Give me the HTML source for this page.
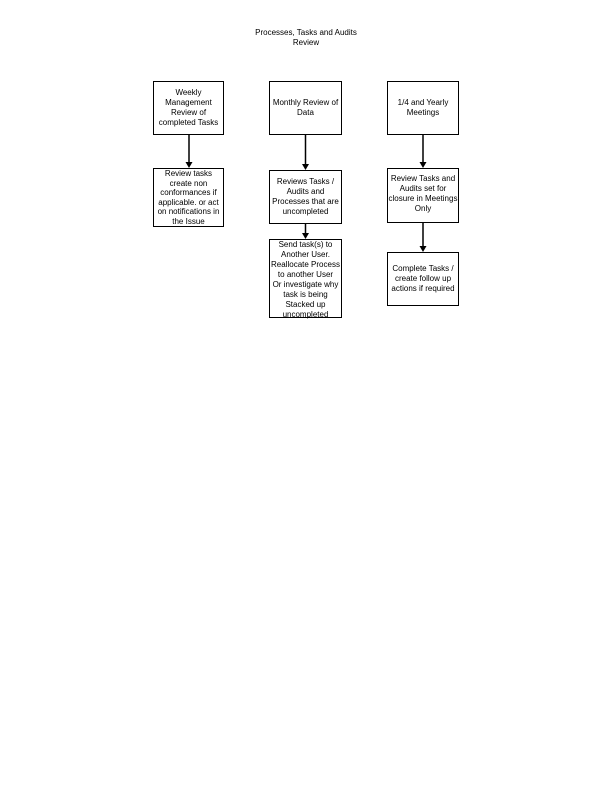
<!DOCTYPE html>
<html><head><meta charset="utf-8"><style>
html,body{margin:0;padding:0;background:#fff;}
body{width:612px;height:792px;position:relative;overflow:hidden;font-family:"Liberation Sans",Arial,sans-serif;font-size:8px;color:#000;}
.b{position:absolute;border:1.6px solid #000;box-sizing:border-box;display:flex;align-items:center;justify-content:center;text-align:center;line-height:10px;}
.t{position:absolute;left:206px;width:200px;text-align:center;line-height:10px;top:28px;}
</style></head><body>
<div class="t">Processes, Tasks and Audits<br>Review</div>
<div class="b" style="left:153px;top:81px;width:71px;height:54px;">Weekly<br>Management<br>Review of<br>completed Tasks</div>
<div class="b" style="left:269px;top:81px;width:73px;height:54px;align-items:flex-start;padding-top:16px;">Monthly Review of<br>Data</div>
<div class="b" style="left:387px;top:81px;width:72px;height:54px;align-items:flex-start;padding-top:16px;">1/4 and Yearly<br>Meetings</div>
<div class="b" style="left:153px;top:168px;width:71px;height:59px;align-items:flex-start;padding-top:0px;line-height:9.6px;">Review tasks<br>create non<br>conformances if<br>applicable. or act<br>on notifications in<br>the Issue</div>
<div class="b" style="left:269px;top:170px;width:73px;height:54px;">Reviews Tasks /<br>Audits and<br>Processes that are<br>uncompleted</div>
<div class="b" style="left:387px;top:168px;width:72px;height:55px;align-items:flex-start;padding-top:5px;">Review Tasks and<br>Audits set for<br>closure in Meetings<br>Only</div>
<div class="b" style="left:269px;top:239px;width:73px;height:79px;align-items:flex-start;padding-top:0px;">Send task(s) to<br>Another User.<br>Reallocate Process<br>to another User<br>Or investigate why<br>task is being<br>Stacked up<br>uncompleted</div>
<div class="b" style="left:387px;top:252px;width:72px;height:54px;">Complete Tasks /<br>create follow up<br>actions if required</div>
<svg width="612" height="792" style="position:absolute;left:0;top:0" xmlns="http://www.w3.org/2000/svg">
<g stroke="#000" stroke-width="1.5">
<line x1="189" y1="135" x2="189" y2="163"/>
<line x1="305.5" y1="135" x2="305.5" y2="165"/>
<line x1="423" y1="135" x2="423" y2="163"/>
<line x1="305.5" y1="224" x2="305.5" y2="234"/>
<line x1="423" y1="223" x2="423" y2="247"/>
</g>
<g fill="#000">
<polygon points="185.5,162 192.5,162 189,168"/>
<polygon points="302,164 309,164 305.5,170"/>
<polygon points="419.5,162 426.5,162 423,168"/>
<polygon points="302,233 309,233 305.5,239"/>
<polygon points="419.5,246 426.5,246 423,252"/>
</g>
</svg>
</body></html>
